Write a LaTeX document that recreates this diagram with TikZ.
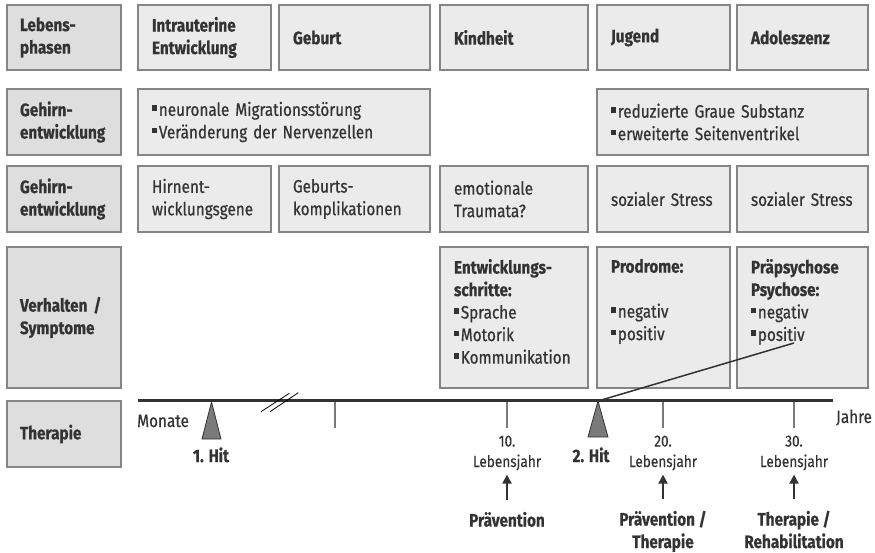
\documentclass[tikz,border=0pt]{standalone}
\usepackage{fontspec}
\setmainfont{Fira Sans}[FakeStretch=0.85, FakeBold=0.6]
\usetikzlibrary{arrows.meta}

\definecolor{ink}{HTML}{333333}
\definecolor{edge}{HTML}{858585}
\definecolor{headfill}{HTML}{DEDEDE}
\definecolor{cellfill}{HTML}{EBEBEB}
\definecolor{tickgray}{HTML}{7A7A7A}

% small square bullet
\newcommand\sq{\rule[0.28em]{0.3em}{0.3em}\hspace{0.08em}}
\newcommand\bodyfont{\fontsize{18pt}{22.5pt}\selectfont}
\newcommand\yearfont{\fontsize{16pt}{20pt}\selectfont}
% top-aligned content for the tall cells
\newcommand\topcell[2]{\parbox[t][117pt][t]{#1}{\raggedright #2}}

\tikzset{
  base/.style={draw=edge, line width=2pt, fill=cellfill, anchor=north west,
    outer sep=0pt, inner xsep=14pt, inner ysep=0pt, text=ink, font=\bodyfont},
  cell/.style={base, align=left},
  head/.style={cell, fill=headfill, inner xsep=13pt, font=\bodyfont\bfseries},
  ttl/.style={cell, font=\bodyfont\bfseries},
  cellfour/.style={base, inner ysep=12pt},
  colL/.style={minimum width=114pt, text width=88pt},
  colA/.style={minimum width=133pt, text width=105pt},
  colB/.style={minimum width=151pt, text width=123pt},
  colC/.style={minimum width=148pt, text width=120pt},
  colD/.style={minimum width=133pt, text width=105pt},
  colE/.style={minimum width=131pt, text width=103pt},
  colAB/.style={minimum width=292pt, text width=264pt},
  colDE/.style={minimum width=271pt, text width=243pt},
  htS/.style={minimum height=65pt},
  htM/.style={minimum height=66pt},
  htL/.style={minimum height=141pt},
  lbl/.style={text=ink, inner sep=0pt, font=\bodyfont, anchor=base},
  lblb/.style={lbl, font=\bodyfont\bfseries, align=center},
  yr/.style={lbl, font=\yearfont},
  axis/.style={draw=ink, line width=3pt},
  tickline/.style={draw=tickgray, line width=2.5pt},
  hitmark/.style={fill=tickgray, draw=ink, line width=0.8pt, line join=round},
  breakmark/.style={draw=black, line width=0.8pt},
  link/.style={draw=ink, line width=1.5pt},
  arr/.style={draw=ink, line width=2pt, -{Triangle[width=9pt,length=9pt]},
    shorten <=12pt, shorten >=4pt},
}

\begin{document}
\begin{tikzpicture}[x=1pt,y=-1pt]
\useasboundingbox (0,0) rectangle (875,552);

% row 1: life phases
\node[head, colL, htS] (lp) at (7,5) {Lebens-\\phasen};
\node[ttl, colA, htS] (p1) at (138,5) {Intrauterine\\Entwicklung};
\node[ttl, colB, htS] (p2) at (279,5) {Geburt};
\node[ttl, colC, htS] (p3) at (440,5) {Kindheit};
\node[ttl, colD, htS] (p4) at (597,5) {Jugend};
\node[ttl, colE, htS] (p5) at (737,5) {Adoleszenz};

% row 2: brain development findings
\node[head, colL, htM] (lg1) at (7,89) {Gehirn-\\entwicklung};
\node[cell, colAB, htM] (g1) at (138,89)
  {\sq neuronale Migrationsstörung\\\sq Veränderung der Nervenzellen};
\node[cell, colDE, htM] (g2) at (597,89)
  {\sq reduzierte Graue Substanz\\\sq erweiterte Seitenventrikel};

% row 3: risk factors
\node[head, colL, htM] (lg2) at (7,166) {Gehirn-\\entwicklung};
\node[cell, colA, htM] (f1) at (138,166) {Hirnent-\\wicklungsgene};
\node[cell, colB, htM] (f2) at (279,166) {Geburts-\\komplikationen};
\node[cell, colC, htM] (f3) at (440,166) {emotionale\\Traumata?};
\node[cell, colD, htM] (f4) at (597,166) {sozialer Stress};
\node[cell, colE, htM] (f5) at (737,166) {sozialer Stress};

% row 4: behaviour / symptoms
\node[head, colL, htL] (lv) at (7,247) {Verhalten /\\Symptome};
\node[cellfour, minimum width=148pt] (s1) at (440,247) {\topcell{120pt}{%
  \textbf{Entwicklungs-}\\\textbf{schritte:}\\\sq Sprache\\\sq Motorik\\\sq Kommunikation}};
\node[cellfour, minimum width=133pt] (s2) at (597,247) {\topcell{105pt}{%
  \textbf{Prodrome:}\\\strut\\\sq negativ\\\sq positiv}};
\node[cellfour, minimum width=131pt] (s3) at (737,247) {\topcell{103pt}{%
  \textbf{Präpsychose}\\\textbf{Psychose:}\\\sq negativ\\\sq positiv}};

% row 5: therapy
\node[head, colL, htM] (lt) at (7,401) {Therapie};

% time axis
\coordinate (tl0) at (138,400.5);
\coordinate (tl1) at (833,400.5);
\coordinate (k0) at (335,400);
\coordinate (k10) at (507,400);
\coordinate (k20) at (663,400);
\coordinate (k30) at (794,400);
\draw[tickline] (k0) -- ++(0,28);
\draw[tickline] (k10) -- ++(0,28);
\draw[tickline] (k20) -- ++(0,28);
\draw[tickline] (k30) -- ++(0,28);
\draw[axis] (tl0) -- (tl1);
\draw[breakmark] (261,411.7) -- (289.3,393.3);
\draw[breakmark] (270,411.7) -- (298.3,392.7);

% the two hits
\coordinate (hit1) at (211.5,402);
\coordinate (hit2) at (598,401);
\coordinate (psy) at (794,343);
\draw[hitmark] (hit1) -- ++(-9.5,37) -- ++(19,0) -- cycle;
\draw[hitmark] (hit2) -- ++(-10,36) -- ++(20,0) -- cycle;
\draw[link] (hit2) -- (psy);

% axis labels
\node[lbl, anchor=base west] (mo) at (137,427) {Monate};
\node[lbl, anchor=base west] (ja) at (836,423) {Jahre};
\node[lblb] (h1) at (211,462) {1. Hit};
\node[lblb] (h2) at (591,462) {2. Hit};

\node[yr] (y10) at (507,446.5) {10.};
\node[yr] (lj10) at (507,467) {Lebensjahr};
\node[yr] (y20) at (663,446.5) {20.};
\node[yr] (lj20) at (663,467) {Lebensjahr};
\node[yr] (y30) at (794,446.5) {30.};
\node[yr] (lj30) at (794,467) {Lebensjahr};

% interventions (two-line labels sit on their last baseline)
\node[lblb] (t10) at (507,526.5) {Prävention};
\node[lblb] (t20) at (663,548) {Prävention /\\Therapie};
\node[lblb] (t30) at (794,548) {Therapie /\\Rehabilitation};
\draw[arr] (t10.north) -- (lj10.south);
\draw[arr] (t20.north) -- (lj20.south);
\draw[arr] (t30.north) -- (lj30.south);
\end{tikzpicture}
\end{document}
